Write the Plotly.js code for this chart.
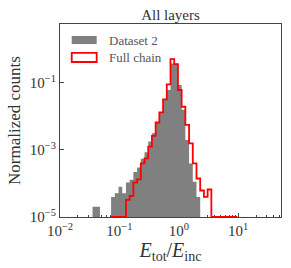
<!DOCTYPE html>
<html>
<head>
<meta charset="utf-8">
<script src="https://cdn.plot.ly/plotly-3.0.1.min.js"></script>
<style>
html,body{margin:0;padding:0;background:#ffffff;}
#chart{width:291px;height:268px;}
</style>
</head>
<body>
<div id="chart"></div>
<script>
// Shared, logarithmically spaced bin edges (E_tot / E_inc)
const binEdges = [
  0.035278, 0.040738, 0.047043, 0.054325, 0.062734,
  0.072444, 0.083660, 0.096605, 0.111558, 0.128825,
  0.148766, 0.171791, 0.198383, 0.229087, 0.264546,
  0.305492, 0.352776, 0.407380, 0.470427, 0.543250,
  0.627339, 0.724436, 0.836596, 0.966051, 1.115580,
  1.288250, 1.487660, 1.717910, 1.983830, 2.290870,
  2.645460, 3.054920, 3.527760, 4.073800, 4.704270,
  5.432500, 6.273390, 7.244360, 8.365830, 9.660510
];

// Normalized counts per bin (0 = empty bin, null = outside histogram range)
const dataset2Counts = [
  2.04e-5, 2.04e-5, 0, 0, 0,
  3.98e-5, 5.13e-5, 7.94e-5, 5.13e-5, 1.07e-4,
  1.29e-4, 2.19e-4, 3.02e-4, 5.50e-4, 8.51e-4,
  1.78e-3, 3.16e-3, 6.61e-3, 1.26e-2, 3.09e-2,
  6.17e-2, 0.380, 0.355, 8.71e-2, 1.58e-2,
  2.00e-3, 3.98e-4, 1.12e-4, 3.98e-5, 0,
  0, 0, 0, 0, 0,
  0, 0, 0, 0
];

const fullChainCounts = [
  null, null, null, null, null,
  0, 0, 0, 0, 3.24e-5,
  4.27e-5, 1.07e-4, 1.32e-4, 3.98e-4, 5.62e-4,
  1.26e-3, 2.63e-3, 6.61e-3, 1.32e-2, 3.24e-2,
  9.12e-2, 0.513, 0.363, 6.17e-2, 1.95e-2,
  5.62e-3, 1.58e-3, 3.98e-4, 1.41e-4, 6.17e-5,
  3.98e-5, 6.61e-5, 0, 0, 0,
  0, 0, 0, 0
];

const seriesNames = ['Dataset 2', 'Full chain'];
const xTickVals = [0.01, 0.1, 1, 10];
const xTickText = ['10<sup>\u22122</sup>', '10<sup>\u22121</sup>', '10<sup>0</sup>', '10<sup>1</sup>'];
const yTickVals = [1e-5, 1e-3, 1e-1];
const yTickText = ['10<sup>\u22125</sup>', '10<sup>\u22123</sup>', '10<sup>\u22121</sup>'];

// Build a histogram step outline from edges and counts
function stepOutline(edges, counts, floor) {
  const xs = [], ys = [];
  let started = false, lastEdge = null;
  counts.forEach((c, i) => {
    if (c === null) return;
    const v = c > 0 ? c : floor;
    if (!started) { xs.push(edges[i]); ys.push(floor); started = true; }
    xs.push(edges[i], edges[i + 1]);
    ys.push(v, v);
    lastEdge = edges[i + 1];
  });
  xs.push(lastEdge); ys.push(floor);
  return {xs, ys};
}

// minor tick positions for the log x axis
const minorX = [];
for (let p = -2; p <= 1; p++) {
  for (let m = 2; m <= 9; m++) minorX.push(m * Math.pow(10, p));
}

const gray = stepOutline(binEdges, dataset2Counts, 1e-7);
const red = stepOutline(binEdges, fullChainCounts, 1e-5);

const traces = [
  {
    type: 'scatter', mode: 'lines', name: seriesNames[0],
    x: gray.xs, y: gray.ys, fill: 'toself', fillcolor: '#808080',
    line: {width: 0, color: '#808080'}, hoverinfo: 'skip'
  },
  {
    type: 'scatter', mode: 'lines', name: seriesNames[1],
    x: red.xs, y: red.ys,
    line: {width: 1.8, color: '#ff0000'}, hoverinfo: 'skip'
  }
];

const serif = "'Liberation Serif', 'DejaVu Serif', serif";
const axisColor = '#444444';

const layout = {
  width: 291, height: 268,
  margin: {l: 60, r: 10, t: 24, b: 51},
  paper_bgcolor: '#ffffff', plot_bgcolor: '#ffffff',
  showlegend: false,
  font: {family: serif, color: '#333333'},
  title: {
    text: 'All layers', font: {family: serif, size: 15, color: '#333333'},
    x: 0.5, xref: 'paper', xanchor: 'center',
    y: 1 - 15 / 268, yref: 'container', yanchor: 'middle'
  },
  xaxis: {
    type: 'log', range: [-2, 1.72],
    tickmode: 'array', tickvals: xTickVals, ticktext: xTickText,
    ticks: 'inside', ticklen: 4, tickwidth: 1, tickcolor: axisColor,
    minor: {tickmode: 'array', tickvals: minorX, ticks: 'inside', ticklen: 2, tickwidth: 1, tickcolor: axisColor, showgrid: false},
    showline: true, mirror: true, linecolor: axisColor, linewidth: 1,
    showgrid: false, zeroline: false, layer: 'below traces',
    tickfont: {family: serif, size: 15, color: '#333333'},
    title: {text: '<i>E</i><sub>tot</sub>/<i>E</i><sub>inc</sub>', font: {family: serif, size: 20, color: '#333333'}, standoff: 1}
  },
  yaxis: {
    type: 'log', range: [-5, 0.76],
    tickmode: 'array', tickvals: yTickVals, ticktext: yTickText,
    ticks: 'inside', ticklen: 4, tickwidth: 1, tickcolor: axisColor,
    showline: true, mirror: true, linecolor: axisColor, linewidth: 1,
    showgrid: false, zeroline: false, layer: 'below traces',
    tickfont: {family: serif, size: 15, color: '#333333'},
    title: {text: 'Normalized counts', font: {family: serif, size: 17, color: '#333333'}, standoff: 4}
  },
  shapes: [
    {type: 'rect', xref: 'paper', yref: 'paper', x0: 0.053, x1: 0.166, y0: 0.896, y1: 0.938,
     fillcolor: '#808080', line: {width: 0}},
    {type: 'rect', xref: 'paper', yref: 'paper', x0: 0.053, x1: 0.166, y0: 0.803, y1: 0.850,
     fillcolor: '#ffffff', line: {width: 1.8, color: '#ff0000'}}
  ],
  annotations: [
    {xref: 'paper', yref: 'paper', x: 0.213, y: 0.917, xanchor: 'left', yanchor: 'middle',
     text: seriesNames[0], showarrow: false, font: {family: serif, size: 13, color: '#555555'}},
    {xref: 'paper', yref: 'paper', x: 0.213, y: 0.826, xanchor: 'left', yanchor: 'middle',
     text: seriesNames[1], showarrow: false, font: {family: serif, size: 13, color: '#555555'}}
  ]
};

Plotly.newPlot('chart', traces, layout, {staticPlot: true, displayModeBar: false});
</script>
</body>
</html>
